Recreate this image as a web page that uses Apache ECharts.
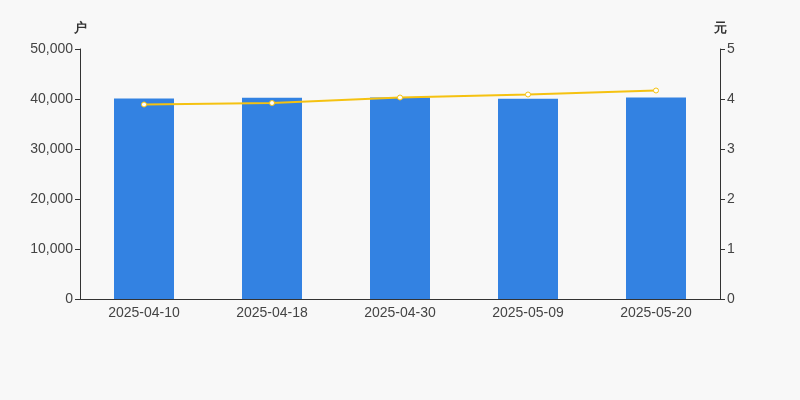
<!DOCTYPE html>
<html><head><meta charset="utf-8">
<script src="https://cdn.jsdelivr.net/npm/echarts@6/dist/echarts.min.js"></script>
<style>html,body{margin:0;padding:0;background:#f8f8f8;}#c{width:800px;height:400px;}</style>
</head><body><div id="c"></div>
<script>
var categories = ['2025-04-10','2025-04-18','2025-04-30','2025-05-09','2025-05-20'];
var holders = [40100, 40250, 40300, 40050, 40280];
var price = [3.89, 3.92, 4.03, 4.09, 4.17];
var chart = echarts.init(document.getElementById('c'));
var F = 'Liberation Sans, Arial, sans-serif';
chart.setOption({
  backgroundColor: '#f8f8f8',
  animation: false,
  textStyle: {fontFamily: F},
  grid: {left: 80, right: 80, top: 49, bottom: 101},
  xAxis: {
    type: 'category', data: categories,
    axisLine: {lineStyle: {color: '#333'}},
    axisTick: {lineStyle: {color: '#333'}},
    axisLabel: {color: '#444', fontSize: 14, margin: 7, fontFamily: F}
  },
  yAxis: [{
    type: 'value', name: '户', min: 0, max: 50000, interval: 10000,
    nameGap: 14,
    nameTextStyle: {color: '#333', fontSize: 13, fontWeight: 'bold', align: 'center'},
    axisLine: {show: true, lineStyle: {color: '#333'}},
    axisTick: {show: true, lineStyle: {color: '#333'}},
    splitLine: {show: false},
    axisLabel: {color: '#444', fontSize: 14, margin: 7, fontFamily: F}
  }, {
    type: 'value', name: '元', min: 0, max: 5, interval: 1,
    nameGap: 14,
    nameTextStyle: {color: '#333', fontSize: 13, fontWeight: 'bold', align: 'center'},
    axisLine: {show: true, lineStyle: {color: '#333'}},
    axisTick: {show: true, lineStyle: {color: '#333'}},
    splitLine: {show: false},
    axisLabel: {color: '#444', fontSize: 14, margin: 7, fontFamily: F}
  }],
  series: [{
    type: 'bar', data: holders, barWidth: 60,
    itemStyle: {color: '#3382e2'}
  }, {
    type: 'line', yAxisIndex: 1, data: price,
    symbol: 'circle', symbolSize: 5,
    lineStyle: {color: '#f5c211', width: 2},
    itemStyle: {color: '#fff', borderColor: '#f5c211', borderWidth: 1}
  }]
});
</script></body></html>
